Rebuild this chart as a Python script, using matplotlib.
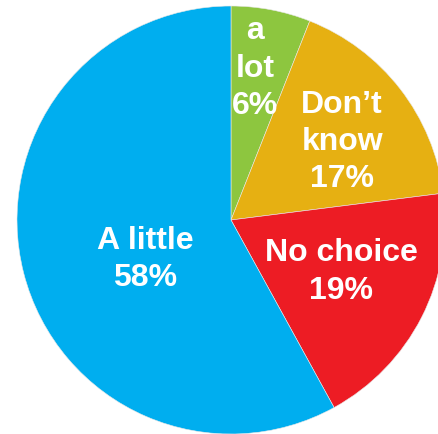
import matplotlib
matplotlib.use('Agg')
import matplotlib.pyplot as plt

plt.rcParams['font.family'] = ['Liberation Sans', 'DejaVu Sans']

# Slices clockwise from the top
labels = ['a\nlot', 'Don\u2019t\nknow', 'No choice', 'A little']
values = [6, 17, 19, 58]
colors = ['#8DC63F', '#E6B012', '#ED1C24', '#00AEEF']
# label centres in pie units (radius 1)
label_pos = [(0.112, 0.712), (0.519, 0.369), (0.514, -0.238), (-0.402, -0.180)]

fig = plt.figure(figsize=(4.38, 4.35), dpi=100)
ax = fig.add_axes([0, 0, 1, 1])
ax.pie(values, colors=colors, startangle=90, counterclock=False,
       wedgeprops=dict(linewidth=0.4, edgecolor='#e8e8e8'))

for lab, v, (x, y) in zip(labels, values, label_pos):
    ax.text(x, y, f'{lab}\n{v}%', ha='center', va='center', color='white',
            fontsize=23, fontweight='bold', linespacing=1.32)

ax.set_aspect('auto')
ax.set_xlim(-231 / 214, 207 / 214)
ax.set_ylim(-214 / 214, 221 / 214)
ax.axis('off')

fig.savefig('out.png', dpi=100)
